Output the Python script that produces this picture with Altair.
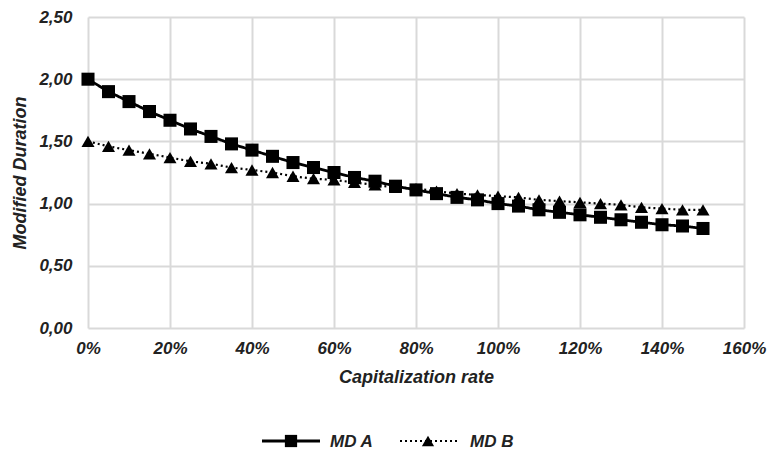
import altair as alt
import pandas as pd

rates = [i * 0.05 for i in range(31)]
md_a = [2.00, 1.90, 1.82, 1.74, 1.67, 1.60, 1.54, 1.48, 1.43, 1.38, 1.33, 1.29, 1.25, 1.21, 1.18, 1.14,
        1.11, 1.08, 1.05, 1.03, 1.00, 0.98, 0.95, 0.93, 0.91, 0.89, 0.87, 0.85, 0.83, 0.82, 0.80]
md_b = [1.50, 1.46, 1.43, 1.40, 1.37, 1.34, 1.32, 1.29, 1.27, 1.25, 1.22, 1.20, 1.19, 1.17, 1.15, 1.13,
        1.12, 1.10, 1.08, 1.07, 1.06, 1.05, 1.03, 1.02, 1.01, 1.00, 0.99, 0.97, 0.96, 0.95, 0.95]
series_names = ["MD A", "MD B"]

rows = []
for r, a, b in zip(rates, md_a, md_b):
    rows.append({"rate": r, "md": a, "series": series_names[0]})
    rows.append({"rate": r, "md": b, "series": series_names[1]})
df = pd.DataFrame(rows)

FONT = "Liberation Sans"
DASH = alt.Scale(domain=series_names, range=[[1, 0], [2, 3]])
SHAPE = alt.Scale(domain=series_names, range=["square", "triangle-up"])
WIDTH = alt.Scale(domain=series_names, range=[2.8, 2.2])

x = alt.X("rate:Q", scale=alt.Scale(domain=[0, 1.6], nice=False),
          axis=alt.Axis(values=[0, 0.2, 0.4, 0.6, 0.8, 1.0, 1.2, 1.4, 1.6],
                        labelExpr="format(datum.value, '.0%')",
                        title="Capitalization rate"))
y = alt.Y("md:Q", scale=alt.Scale(domain=[0, 2.5], nice=False),
          axis=alt.Axis(values=[0, 0.5, 1.0, 1.5, 2.0, 2.5],
                        labelExpr="replace(format(datum.value, '.2f'), '.', ',')",
                        title="Modified Duration"))

base = alt.Chart(df)
lines = base.mark_line(color="black").encode(
    x=x, y=y,
    strokeDash=alt.StrokeDash("series:N", scale=DASH, legend=None),
    strokeWidth=alt.StrokeWidth("series:N", scale=WIDTH, legend=None),
)
points = base.mark_point(filled=True, color="black", opacity=1, size=170).encode(
    x=x, y=y,
    shape=alt.Shape("series:N", scale=SHAPE, legend=None),
)

# manual legend (line + marker + label), positioned below the plot
leg = pd.DataFrame({"series": series_names, "x0": [174, 312], "x1": [232, 369],
                    "xm": [203, 340], "xt": [242, 382]})
leg_base = alt.Chart(leg)
leg_lines = leg_base.mark_rule(color="black").encode(
    x=alt.X("x0:Q", scale=None, axis=None), x2="x1:Q", y=alt.value(424),
    strokeDash=alt.StrokeDash("series:N", scale=DASH, legend=None),
    strokeWidth=alt.StrokeWidth("series:N", scale=WIDTH, legend=None),
)
leg_pts = leg_base.mark_point(filled=True, color="black", opacity=1, size=150).encode(
    x=alt.X("xm:Q", scale=None, axis=None), y=alt.value(424),
    shape=alt.Shape("series:N", scale=SHAPE, legend=None),
)
leg_text = leg_base.mark_text(align="left", baseline="middle", font=FONT, fontSize=17,
                              fontWeight="bold", fontStyle="italic", color="#222").encode(
    x=alt.X("xt:Q", scale=None, axis=None), y=alt.value(425), text="series:N",
)

chart = alt.layer(lines, points, leg_lines, leg_pts, leg_text).properties(
    width=656, height=311, autosize="none",
    padding={"left": 80, "top": 9, "right": 23, "bottom": 130},
).configure_view(stroke=None).configure_axis(
    grid=True, gridColor="#d9d9d9", gridWidth=2, domain=False, ticks=False,
    labelFont=FONT, labelFontSize=17, labelFontWeight="bold", labelFontStyle="italic",
    labelColor="#222", titleFont=FONT, titleFontWeight="bold",
    titleFontStyle="italic", titleColor="#222",
).configure_axisX(labelPadding=12, titlePadding=12, labelFlush=False, titleFontSize=18).configure_axisY(
    labelPadding=16, titlePadding=9, titleFontSize=18)

chart.save("out.html", embed_options={"renderer": "svg", "actions": False})
